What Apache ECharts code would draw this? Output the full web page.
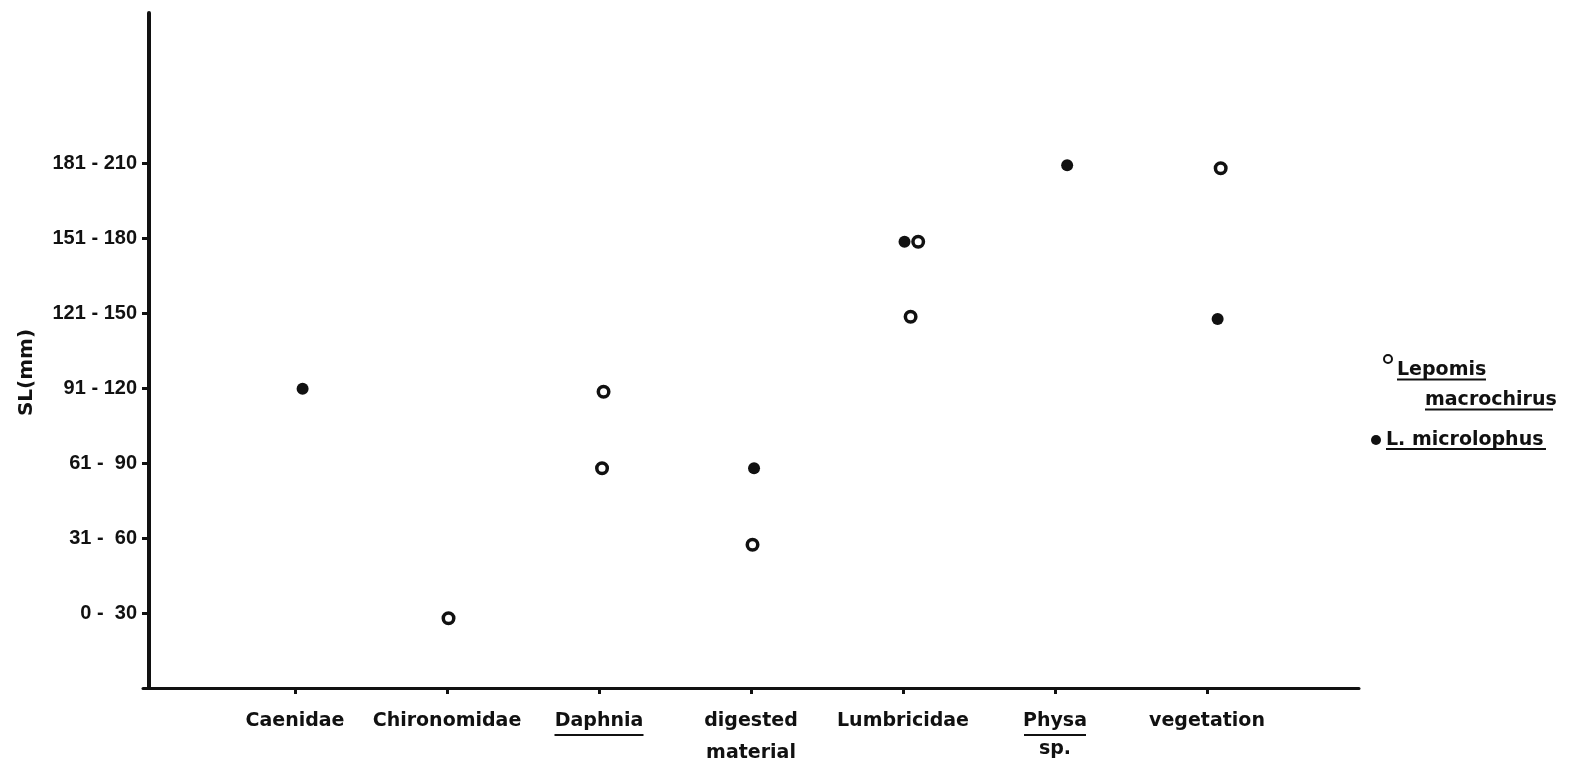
<!DOCTYPE html>
<html><head><meta charset="utf-8">
<script src="https://cdn.jsdelivr.net/npm/echarts@6/dist/echarts.min.js"></script>
<style>html,body{margin:0;padding:0;background:#fff}#c{width:1569px;height:769px}</style>
</head><body><div id="c"></div>
<script>
// ---- data ----
const categories = ['Caenidae', 'Chironomidae', 'Daphnia', 'digested material', 'Lumbricidae', 'Physa sp.', 'vegetation'];
const categoryLabels = ['Caenidae', 'Chironomidae', 'Daphnia', 'digested\nmaterial', 'Lumbricidae', 'Physa\nsp.', 'vegetation'];
const underlinedLabels = ['Daphnia', 'Physa'];
const sizeClassLabels = ['0 -  30', '31 -  60', '61 -  90', '91 - 120', '121 - 150', '151 - 180', '181 - 210'];
const seriesNames = ['Lepomis macrochirus', 'L. microlophus'];
// [food category position (1..7), SL class position (1..7)] as placed in the figure
const lepomisMacrochirus = [[2.01, 0.93], [3.03, 3.95], [3.02, 2.93], [4.01, 1.91], [5.10, 5.95], [5.05, 4.95], [7.09, 6.93]];
const lMicrolophus = [[1.05, 3.99], [4.02, 2.93], [5.01, 5.95], [6.08, 6.97], [7.07, 4.92]];

const ink = '#111';
const catTicks = categories.map((_, i) => i + 1);
const classTicks = sizeClassLabels.map((_, i) => i + 1);
const boldSans = {fontFamily: 'DejaVu Sans', fontWeight: 'bold', color: ink};

function xLabel(v) {
  const lab = categoryLabels[Math.round(v) - 1];
  if (!lab) return '';
  const lines = lab.split('\n');
  const out = [];
  lines.forEach((ln, i) => {
    if (i > 0 && !underlinedLabels.includes(lines[i - 1])) out.push('{gap|}');
    out.push('{t|' + ln + '}');
    if (underlinedLabels.includes(ln)) out.push('{u' + ln + '|}');
  });
  return out.join('\n');
}

const chart = echarts.init(document.getElementById('c'), null, {renderer: 'canvas'});
const option = {
  animation: false,
  backgroundColor: '#fff',
  grid: {left: 143, top: 13, width: 1216, height: 675, containLabel: false},
  xAxis: {
    type: 'value', min: 0, max: 8, interval: 1,
    splitLine: {show: false},
    axisLine: {show: true, onZero: false, lineStyle: {color: ink, width: 3}},
    axisTick: {show: true, customValues: catTicks, length: 6, lineStyle: {color: ink, width: 3}},
    axisLabel: {
      customValues: catTicks, margin: 21, formatter: xLabel,
      rich: {
        t: Object.assign({fontSize: 19, lineHeight: 24}, boldSans),
        gap: {height: 0, lineHeight: 8},
        uDaphnia: {width: 89, height: 2, lineHeight: 4, backgroundColor: ink},
        uPhysa: {width: 62, height: 2, lineHeight: 4, backgroundColor: ink}
      }
    }
  },
  yAxis: {
    type: 'value', min: 0, max: 9, interval: 1, offset: -6,
    name: 'SL(mm)', nameLocation: 'middle', nameRotate: 90, nameGap: 112,
    nameTextStyle: Object.assign({fontSize: 20, padding: [0, 44, 0, 0]}, boldSans),
    splitLine: {show: false},
    axisLine: {show: true, lineStyle: {color: ink, width: 4}},
    axisTick: {show: true, customValues: classTicks, length: 7, lineStyle: {color: ink, width: 3}},
    axisLabel: {
      customValues: classTicks, margin: 12,
      formatter: v => sizeClassLabels[Math.round(v) - 1] || '',
      fontFamily: 'Liberation Sans', fontWeight: 'bold', fontSize: 20, color: ink
    }
  },
  legend: [
    {
      data: [{name: seriesNames[0], icon: 'circle', itemStyle: {color: '#fff', borderColor: ink, borderWidth: 2}}],
      left: 1383, top: 329, orient: 'vertical', itemWidth: 8, itemHeight: 8, padding: 0, selectedMode: false,
      formatter: name => {
        const w = name.split(' ');
        return '{pad|}\n{a|' + w[0] + '}\n{ua|}\n{sp|}\n{in|}{a|' + w[1] + '}\n{in|}{ub|}';
      },
      textStyle: {
        rich: {
          pad: {height: 0, lineHeight: 57},
          a: Object.assign({fontSize: 19, lineHeight: 14}, boldSans),
          ua: {width: 89, height: 2, lineHeight: 4, backgroundColor: ink},
          sp: {height: 0, lineHeight: 12},
          in: {width: 28, height: 0},
          ub: {width: 128, height: 2, lineHeight: 4, backgroundColor: ink}
        }
      }
    },
    {
      data: [{name: seriesNames[1], icon: 'circle', itemStyle: {color: ink, borderWidth: 0}}],
      left: 1371, top: 425, orient: 'vertical', itemWidth: 10, itemHeight: 10, padding: 0, selectedMode: false,
      formatter: name => '{pad|}\n{a|' + name + '}\n{ua|}',
      textStyle: {
        rich: {
          pad: {height: 0, lineHeight: 4},
          a: Object.assign({fontSize: 19, lineHeight: 14}, boldSans),
          ua: {width: 160, height: 2, lineHeight: 4, backgroundColor: ink}
        }
      }
    }
  ],
  series: [
    {
      name: seriesNames[0], type: 'scatter', data: lepomisMacrochirus, symbol: 'circle', symbolSize: 10.5,
      itemStyle: {color: '#fff', borderColor: ink, borderWidth: 3.5, opacity: 1}, z: 3
    },
    {
      name: seriesNames[1], type: 'scatter', data: lMicrolophus, symbol: 'circle', symbolSize: 12,
      itemStyle: {color: ink, opacity: 1}, z: 2
    }
  ]
};
chart.setOption(option);
</script>
</body></html>
